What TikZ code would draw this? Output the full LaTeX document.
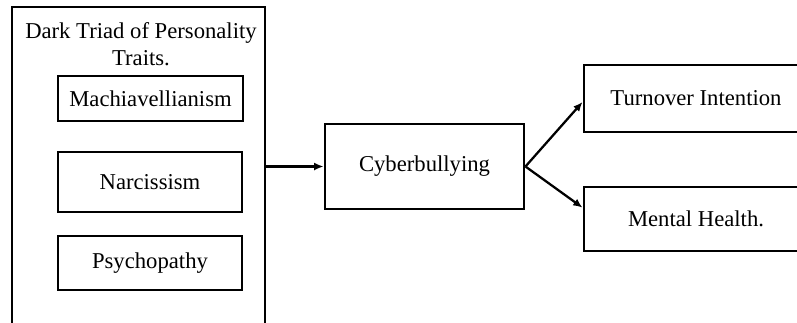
\documentclass[tikz,border=0pt]{standalone}
\usepackage{fontspec}
\setmainfont{Liberation Serif}
\usetikzlibrary{arrows.meta,calc}
\begin{document}
\begin{tikzpicture}[x=0.75pt,y=-0.75pt,
  box/.style={draw,line width=2.2pt,inner sep=0pt,align=center,font=\fontsize{17}{20}\selectfont},
  conn/.style={line width=1.7pt,-{Latex[length=7pt,width=6pt]}}]
\useasboundingbox (0,0) rectangle (797,322);
\clip (0,0) rectangle (797,322);
\node[box,minimum width=189.75pt,minimum height=249.75pt] (outer) at (138.5,173.5) {};
\node[align=center,font=\fontsize{17}{20.5}\selectfont] (title) at (141,44) {Dark Triad of Personality\\Traits.};
\node[box,minimum width=138.75pt,minimum height=33.75pt] (mach) at (150.5,98.5) {Machiavellianism};
\node[box,minimum width=138pt,minimum height=45pt] (narc) at (150,182) {Narcissism};
\node[box,minimum width=138pt,minimum height=40.5pt] (psych) at (150,263) {Psychopathy};
\node[box,minimum width=149.25pt,minimum height=63.75pt] (cyber) at (424.5,166.5) {Cyberbullying};
\node[box,minimum width=168pt,minimum height=50.25pt] (turn) at (696,98.5) {Turnover Intention};
\node[box,minimum width=168pt,minimum height=48pt] (mental) at (696,219) {Mental Health.};
\draw[conn] (outer.east |- cyber.west) -- (cyber.west);
\draw[conn] (cyber.east) -- ($(turn.north west)!0.55!(turn.south west)$);
\draw[conn] (cyber.east) -- ($(mental.north west)!0.33!(mental.south west)$);
\end{tikzpicture}
\end{document}
